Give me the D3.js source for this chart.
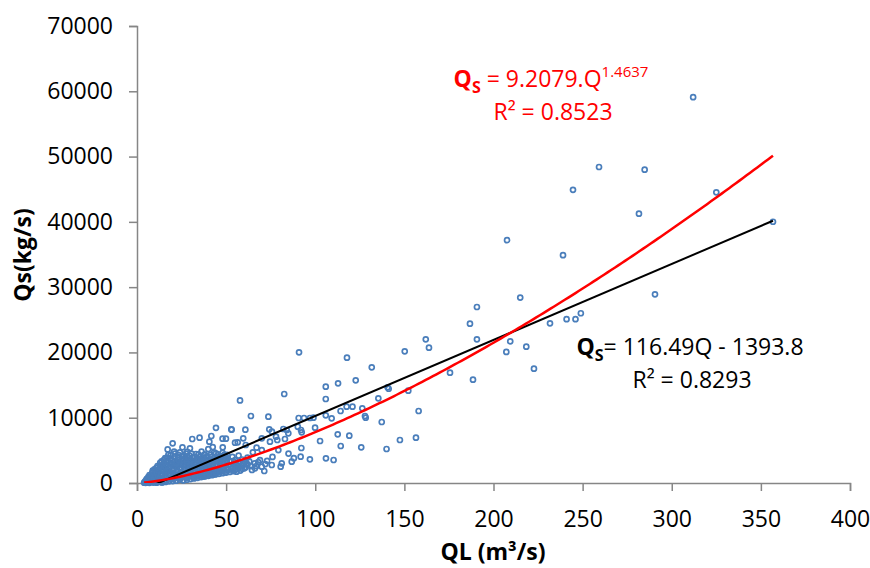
<!DOCTYPE html>
<html>
<head>
<meta charset="utf-8">
<script src="https://cdn.jsdelivr.net/npm/d3@7"></script>
<style>
  body { margin: 0; background: #fff; }
  text { font-family: "Open Sans", "Liberation Sans", sans-serif; }
</style>
</head>
<body>
<svg id="chart" width="870" height="568"></svg>
<script>
// axis ticks
var xTicks = [0, 50, 100, 150, 200, 250, 300, 350, 400];
var yTicks = [0, 10000, 20000, 30000, 40000, 50000, 60000, 70000];

// trend line fits (as printed on the chart)
var powerFit = { a: 9.2079, b: 1.4637, r2: "0.8523" };
var linearFit = { slope: 116.49, intercept: -1393.8, r2: "0.8293" };

var dense = [
  [4,50],[4.5,200],[5,100],[5,400],[5.5,650],[4.8,20],
  [6,80],[6,450],[6.3,900],[6.8,300],[7,1200],[7.2,700],[7,20],
  [8,150],[8,600],[8.2,1000],[8.5,1500],[8.8,1900],[9,400],[9.2,60],
  [10,250],[10,800],[10.2,1300],[10.5,1800],[10.8,2300],[11,50],[11.2,550],
  [12,150],[12,1000],[12.3,1600],[12.5,2100],[12.8,2700],[13,450],[13,3100],
  [14,80],[14,700],[14.2,1300],[14.5,1900],[14.6,2500],[15,3000],[15,3500],[15.3,400],
  [16,150],[16,1000],[16.2,1600],[16.5,2200],[16.7,2800],[17,3400],[17,3900],[17.2,5150],[17.5,600],
  [18,250],[18,1200],[18.3,1900],[18.5,2500],[18.8,3100],[19,3700],[19,4300],[19.3,800],
  [20,6080],[20,300],[20.3,1500],[20.5,2200],[20.8,2800],[21,3400],[21,4000],[21.3,4500],[21.5,900],
  [22,350],[22,1300],[22.4,2000],[22.6,2600],[22.9,3200],[23,3800],[23.2,4300],[23.5,700],
  [24,500],[24.2,1100],[24.5,1700],[24.7,2400],[25,3000],[25,3600],[25.4,4100],[25.5,5470],
  [26,400],[26.3,1400],[26.5,2000],[26.8,2700],[27,3300],[27.2,3900],[27.5,4500],[27.7,900],
  [28,500],[28.2,4790],[28.5,1200],[28.6,1800],[28.9,2400],[29,3000],[29.2,3600],[29.7,5310],[29.5,4200],
  [30,600],[30.2,1500],[30.5,2100],[30.8,2700],[31,6740],[31,3300],[31.3,3900],[31.5,900],
  [32,700],[32.3,1300],[32.5,1900],[32.8,2500],[33,3100],[33.1,4440],[33.3,3700],[33.5,1000],
  [34,800],[34.3,1600],[34.5,2200],[34.8,2800],[35.1,6940],[35,3400],[35.3,4000],
  [36,900],[36.3,1500],[36.5,2100],[36.8,2700],[37,3300],[37.3,3900],[37.8,4290],[37.5,1200],
  [38,1000],[38.3,1700],[38.5,2300],[38.8,2900],[39,3500],[39.3,4100],[39.5,1400],
  [40,1100],[40.3,1800],[40.6,6330],[40.5,2400],[40.8,3000],[41,3600],[41.3,4300],[41.7,7200],
  [42,1200],[42.3,1900],[42.5,2600],[42.8,3200],[43,3800],[43.3,4700],[43.5,1500],
  [44,1300],[44.3,8450],[44.3,4550],[44.5,2100],[44.8,2800],[45,3400],[45.3,4000],[45.5,1700],
  [46,1400],[46.3,2200],[46.5,2900],[46.8,3500],[47,4100],[47.3,1800],
  [48,6790],[48,1500],[48.1,5470],[48.3,2300],[48.5,3000],[48.8,3700],[49,4300],[49.4,4290],[49.9,6790],
  [50,1600],[50.3,2400],[50.5,3100],[50.8,3800],[51,2000]
];

// more of the overlapping cluster below QL 75
var denseFill = [
  [5,300],[5.8,150],[6.5,600],[7.5,950],[7.8,350],[8.4,1250],[9,1700],[9.6,800],[9.8,2100],
  [10.5,450],[11,1550],[11.5,2600],[11.8,1050],[12,1900],[12.6,700],[13.2,2400],[13.5,1300],
  [13.8,3300],[14,100],[14.8,2200],[15.5,1000],[15.8,3800],[16,2500],[16.3,300],[17,1900],
  [17.3,1300],[17.6,4300],[18.2,600],[18.5,2900],[19,1500],[19.6,3400],[19.8,2000],[20.5,600],
  [20.8,4800],[21,1200],[21.6,2500],[22,3000],[22.5,1000],[23,1700],[23.5,3500],[24,4700],
  [24.4,2100],[24.8,800],[25.5,1400],[25.8,2700],[26.2,3500],[26.5,4200],[27,1100],[27.5,2300],
  [28,3300],[28.3,4000],[28.5,800],[29,1500],[29.5,2700],[30,3500],[30.5,4500],[31,1200],
  [31.5,2400],[32,3000],[32.3,4000],[32.5,900],[33,1600],[33.5,2800],[34,3700],[34.5,4400],
  [35,1300],[35.5,2500],[36,3500],[36.2,4800],[36.8,1800],[37.2,1000],[37.5,3000],[38,4400],
  [38.5,2000],[39,1200],[39.3,2600],[39.8,3200],[40,5200],[40.5,1500],[41,2100],[41.5,2800],
  [42,4000],[42.5,5500],[43,1300],[43.5,2300],[44,3500],[44.5,1600],[45,2600],[45.5,4400],
  [46,3200],[46.5,1700],[47,2500],[47.5,3800],[48,4600],[48.5,2000],[49,2700],[49.5,1700],
  [50,3500],[50.5,4300],[51.5,2700],[52,3400],[53,2200],[54,2400],[54.5,3200],[55,2000],
  [56,2700],[57,2400],[58,3200],[59,2200],[60,3000],[61,2400],[62,2800],[63,3300],[64.5,2000],
  [66,3000],[67,2600],[69,3500],[72,2900],[73,3400]
];

var spread = [
  [52,1700],[52.5,2600],[52.9,8220],[53,3300],[53.1,8170],[53.5,4000],
  [54,1800],[54.5,2800],[55,6170],[55,3500],[55.9,1730],
  [56.5,6230],[56,2200],[56.8,3100],[57,4200],
  [57.8,12650],[58,1900],[58.5,2700],[59,3600],[59.6,6840],
  [60.2,2250],[60.8,8170],[61,5820],[61.5,3000],[62,3900],
  [63.9,10260],[64,2600],[65,4700],[66.2,2250],
  [67.1,5410],[68,3200],[70,6840],[70,5050],[70,2500],[71.4,1840],
  [73.7,10160],[74.2,8220],[74.6,6330],[75.6,2760],[75.7,7860],[76,4000],
  [78,7090],[78.7,6590],[79.3,5050],[80.6,2500],[81.2,3020],
  [82.1,8270],[82.6,13630],[83,6740],[84,8120],[84.9,7610],[86.8,3260],[85,4500],
  [88,3800],[90.2,8620],[90.7,9960],[90.9,20020],[91.8,4030],[92,8120],[92.2,5360],[92.4,7760],[93.7,9960],
  [97,9960],[97,3630],[99,10000],[99.9,8470],
  [102.7,6430],[105.9,14750],[105.9,12870],[105.9,10370],[106,3780],[109.2,9910],[110.3,3520],
  [112.6,7460],[112.8,15270],[114.2,11030],[114.3,5670],[117.6,11690],[117.8,19190],[119.1,7250],
  [120.9,11690],[122.7,15730],[125.8,5470],[126.4,11440],[127.9,10260],[128.3,10000],
  [131.7,17720],[135.4,12970],[137.3,9340],[140,5210],[140.6,14660],[141.2,14440],
  [147.5,6590],[150.2,20170],[152.2,14140],[156.5,6940],[158,11030],[162,22010],[163.8,20730]
];

var high = [
  [175.6,16900],[186.8,24400],[188.5,15820],[190.7,26960],[190.7,22010],
  [207.2,20070],[207.6,37200],[209.4,21700],[215,28400],[218.4,20880],[222.7,17510],
  [231.7,24460],[239,34900],[241,25100],[244.6,44900],[246,25100],[249,26000],
  [259.2,48400],[281.6,41250],[284.8,47990],[290.6,28900],[312,59100],[325,44530],[356.8,40020]
];

var points = dense.concat(denseFill, spread, high);

var svg = d3.select("#chart");
var plotLeft = 137, plotRight = 850, plotTop = 26, plotBottom = 483;

var x = d3.scaleLinear().domain([0, 400]).range([plotLeft, plotRight]);
var y = d3.scaleLinear().domain([0, 70000]).range([plotBottom, plotTop]);

svg.append("defs").append("clipPath")
    .attr("id", "plot")
  .append("rect")
    .attr("x", plotLeft).attr("y", plotTop)
    .attr("width", plotRight - plotLeft).attr("height", plotBottom - plotTop);

// axes
var yAxis = svg.append("g")
    .attr("transform", "translate(" + plotLeft + ",0)")
    .call(d3.axisLeft(y).tickValues(yTicks).tickSize(8).tickPadding(16).tickFormat(d3.format("d")));

var xAxis = svg.append("g")
    .attr("transform", "translate(0," + plotBottom + ")")
    .call(d3.axisBottom(x).tickValues(xTicks).tickSize(8).tickPadding(20).tickFormat(d3.format("d")));

[xAxis, yAxis].forEach(function(g) {
    g.select(".domain").attr("stroke", "#868686").attr("stroke-width", 1.5);
    g.selectAll(".tick line").attr("stroke", "#868686").attr("stroke-width", 1.5);
    g.selectAll(".tick text")
        .attr("fill", "#000")
        .style("font-size", "23px")
        .style("font-family", "'Open Sans', sans-serif");
});

// scatter
svg.append("g")
    .selectAll("circle")
    .data(points)
    .enter().append("circle")
    .attr("cx", function(d) { return x(d[0]); })
    .attr("cy", function(d) { return y(d[1]); })
    .attr("r", 2.5)
    .attr("fill", "none")
    .attr("stroke", "#4A7EBB")
    .attr("stroke-width", 1.7);

// trend lines
var qMin = d3.min(points, function(d) { return d[0]; });
var qMax = d3.max(points, function(d) { return d[0]; });
var qGrid = d3.range(qMin, qMax, 2).concat([qMax]);

var line = d3.line()
    .x(function(d) { return x(d[0]); })
    .y(function(d) { return y(d[1]); });

svg.append("path")
    .datum([[qMin, linearFit.slope * qMin + linearFit.intercept], [qMax, linearFit.slope * qMax + linearFit.intercept]])
    .attr("clip-path", "url(#plot)")
    .attr("d", line)
    .attr("fill", "none")
    .attr("stroke", "#000")
    .attr("stroke-width", 2);

svg.append("path")
    .datum(qGrid.map(function(q) { return [q, powerFit.a * Math.pow(q, powerFit.b)]; }))
    .attr("clip-path", "url(#plot)")
    .attr("d", line)
    .attr("fill", "none")
    .attr("stroke", "#FF0000")
    .attr("stroke-width", 2.5);

// axis titles
svg.append("text")
    .attr("transform", "translate(31,255) rotate(-90)")
    .attr("text-anchor", "middle")
    .style("font-size", "23px")
    .style("font-weight", "bold")
    .text("Qs(kg/s)");

svg.append("text")
    .attr("x", 493).attr("y", 560)
    .attr("text-anchor", "middle")
    .style("font-size", "23px")
    .style("font-weight", "bold")
    .text("QL (m³/s)");

// equations
function equation(cx, cy, color, rest, sup, r2) {
    var t = svg.append("text")
        .attr("x", cx).attr("y", cy)
        .attr("text-anchor", "middle")
        .attr("fill", color)
        .style("font-size", "23px");
    t.append("tspan").style("font-weight", "bold").text("Q");
    t.append("tspan").style("font-weight", "bold").style("font-size", "16px")
        .attr("dy", 6).text("S");
    t.append("tspan").attr("dy", -6).text(rest);
    if (sup) {
        t.append("tspan").style("font-size", "15px").attr("dy", -10).text(sup);
    }
    svg.append("text")
        .attr("x", cx + 2).attr("y", cy + 33)
        .attr("text-anchor", "middle")
        .attr("fill", color)
        .style("font-size", "23px")
        .text("R² = " + r2);
}

equation(551, 87, "#FF0000", " = " + powerFit.a + ".Q", String(powerFit.b), powerFit.r2);
equation(690, 355, "#000", "= " + linearFit.slope + "Q - " + Math.abs(linearFit.intercept), null, linearFit.r2);
</script>
</body>
</html>
